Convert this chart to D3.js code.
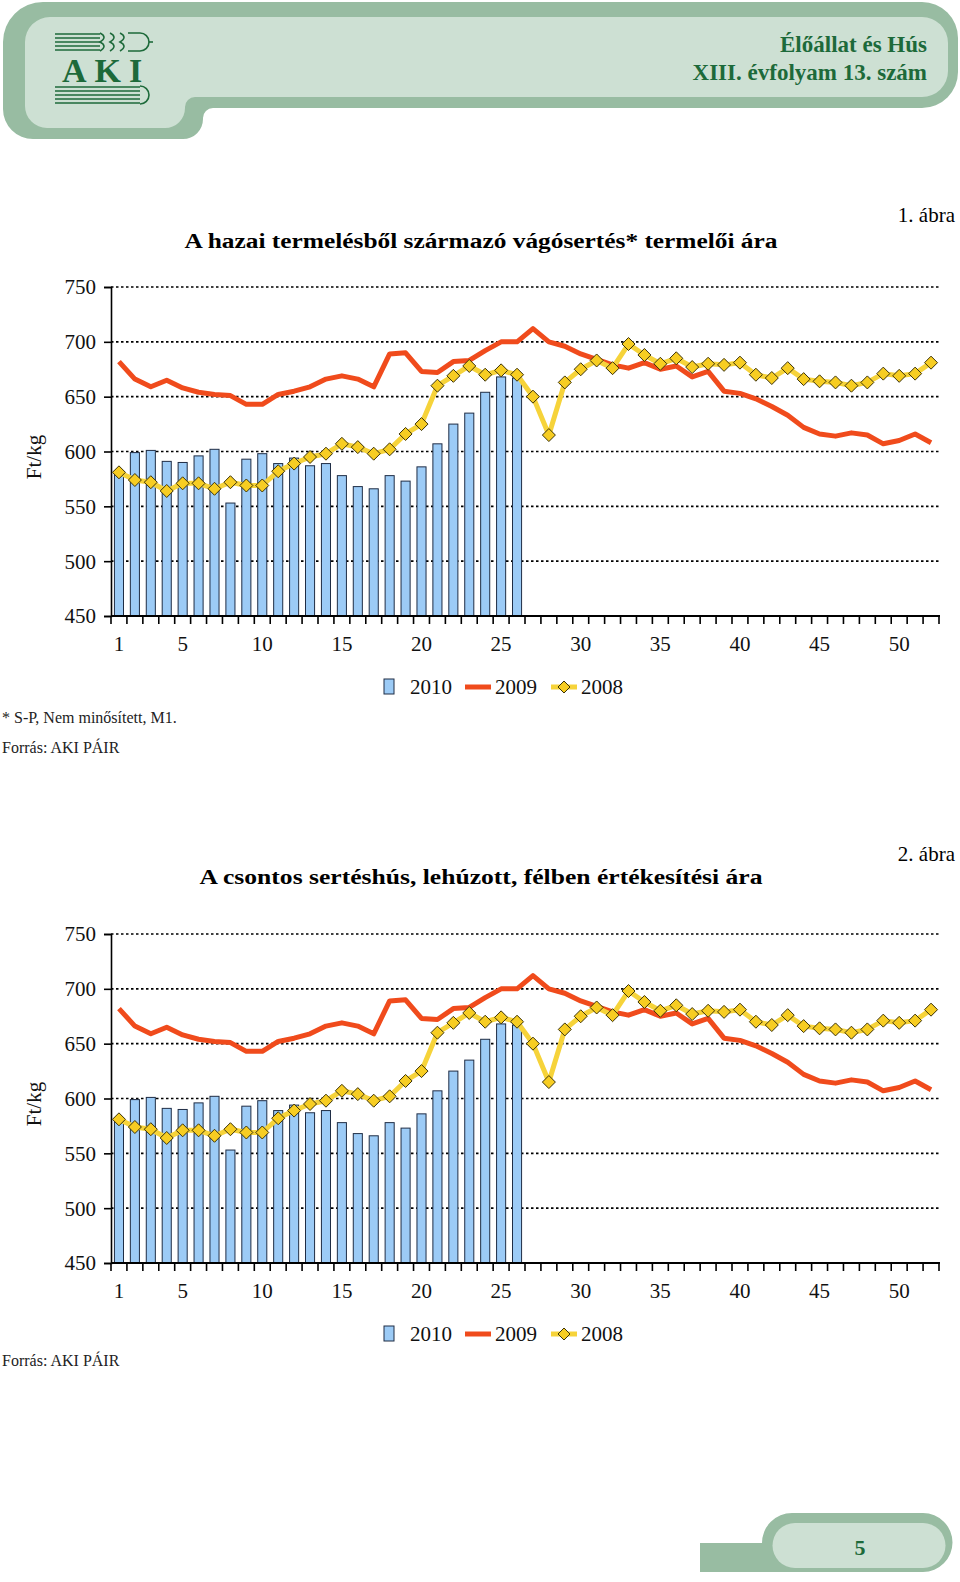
<!DOCTYPE html>
<html><head><meta charset="utf-8">
<script src="https://cdn.jsdelivr.net/npm/d3@7"></script>
<style>
html,body{margin:0;padding:0;background:#fff;}
svg{display:block;font-family:"Liberation Serif","DejaVu Serif",serif;}
</style></head>
<body>
<svg id="page" width="960" height="1582"></svg>
<script>
// ---------- DATA ----------
const weeks = d3.range(1, 53);
const tickWeeks = [1, 5, 10, 15, 20, 25, 30, 35, 40, 45, 50];
const yTicks = [450, 500, 550, 600, 650, 700, 750];
const seriesNames = ["2010", "2009", "2008"];
const v2010 = [582,599,601,591,590,596,602,553,593,598,589,594,587,589,578,568,566,578,573,586,607,625,635,654,668,667];
const v2009 = [682,666,659,665,658,654,652,651,643,643,652,655,659,666,669,666,659,689,690,673,672,682,683,692,700,700,712,700,696,689,684,679,676,681,675,678,668,673,655,653,648,641,633,622,616,614,617,615,607,610,616,608];
const v2008 = [581,574,572,564,571,571,566,572,569,569,582,589,595,598,607,604,598,602,616,625,660,669,678,670,674,670,650,615,663,675,683,676,698,688,680,685,677,680,679,681,670,667,676,666,664,663,660,663,671,669,671,681];
const title1 = "A hazai termelésből származó vágósertés* termelői ára";
const title2 = "A csontos sertéshús, lehúzott, félben értékesítési ára";
const yLabel = "Ft/kg";

const svg = d3.select("#page");
const OUT = "#98bca2", IN = "#cde0d3", GREEN = "#1d6a3a";

// ---------- HEADER ----------
svg.append("path").attr("fill", OUT).attr("d",
  "M43,2 H922 A36,36 0 0 1 958,38 V72 A36,36 0 0 1 922,108 H213 A10,10 0 0 0 203,118 V119 A20,20 0 0 1 183,139 H33 A30,30 0 0 1 3,109 V42 A40,40 0 0 1 43,2 Z");
svg.append("path").attr("fill", IN).attr("d",
  "M50,17 H922 A26,26 0 0 1 948,43 V71 A26,26 0 0 1 922,97 H195 A10,10 0 0 0 185,107 V108 A20,20 0 0 1 165,128 H47 A22,22 0 0 1 25,106 V42 A25,25 0 0 1 50,17 Z");
// logo
const logo = svg.append("g").attr("stroke", GREEN).attr("fill", "none");
[34, 38, 42, 46, 50].forEach(y => logo.append("line").attr("x1", 55).attr("x2", 100).attr("y1", y).attr("y2", y).attr("stroke-width", 1.6));
[100, 110, 120].forEach(x => logo.append("path").attr("d", `M${x},33 q8,4 0,9 q8,4 0,9`).attr("stroke-width", 1.6));
logo.append("path").attr("d", "M128,33 h12 a9,9 0 0 1 0,18 h-12").attr("stroke-width", 1.6);
logo.append("line").attr("x1", 149).attr("x2", 153).attr("y1", 42).attr("y2", 42).attr("stroke-width", 1.6);
[87, 91, 95, 99, 103].forEach(y => logo.append("line").attr("x1", 55).attr("x2", 140).attr("y1", y).attr("y2", y).attr("stroke-width", 1.6));
logo.append("path").attr("d", "M140,86 a9,9 0 0 1 0,18").attr("stroke-width", 1.6);
svg.append("text").attr("x", 106).attr("y", 82).attr("text-anchor", "middle")
  .attr("font-size", 34).attr("font-weight", "bold").attr("fill", GREEN)
  .attr("letter-spacing", 8).text("AKI");
svg.append("text").attr("x", 927).attr("y", 52).attr("text-anchor", "end")
  .attr("font-size", 23).attr("font-weight", "bold").attr("fill", GREEN).text("Élőállat és Hús");
svg.append("text").attr("x", 927).attr("y", 80).attr("text-anchor", "end")
  .attr("font-size", 23).attr("font-weight", "bold").attr("fill", GREEN).text("XIII. évfolyam 13. szám");

// ---------- FOOTER ----------
svg.append("path").attr("fill", OUT).attr("d",
  "M700,1543 H762 A30,30 0 0 1 792,1513 H923 A29.5,29.5 0 0 1 923,1572 H700 Z");
svg.append("path").attr("fill", IN).attr("d",
  "M795,1523 H923 A22.5,22.5 0 0 1 923,1568 H795 A22.5,22.5 0 0 1 795,1523 Z");
svg.append("text").attr("x", 860).attr("y", 1555).attr("text-anchor", "middle")
  .attr("font-size", 22).attr("font-weight", "bold").attr("fill", GREEN).text("5");

// ---------- CHARTS ----------
const x = d3.scaleBand().domain(weeks).range([111, 939]).padding(0);
const y = d3.scaleLinear().domain([450, 750]).range([616, 287]);
const barW = x.bandwidth() * 0.57;
const cx = d => x(d) + x.bandwidth() / 2;

function drawChart(dy, title, titleY, titleW, abraText, abraY) {
  const g = svg.append("g").attr("transform", `translate(0,${dy})`);
  g.append("text").attr("x", 481).attr("y", titleY).attr("text-anchor", "middle")
    .attr("font-size", 20).attr("font-weight", "bold")
    .attr("textLength", titleW).attr("lengthAdjust", "spacingAndGlyphs").text(title);
  g.append("text").attr("x", 955).attr("y", abraY).attr("text-anchor", "end")
    .attr("font-size", 21).text(abraText);

  // grid
  g.append("g").selectAll("line").data(yTicks.filter(t => t > 450)).join("line")
    .attr("x1", 111).attr("x2", 939).attr("y1", d => y(d)).attr("y2", d => y(d))
    .attr("stroke", "#000").attr("stroke-width", 1.6).attr("stroke-dasharray", "2.5,2.5");

  // bars 2010
  g.append("g").selectAll("rect").data(v2010).join("rect")
    .attr("x", (d, i) => cx(weeks[i]) - barW / 2).attr("width", barW)
    .attr("y", d => y(d)).attr("height", d => y(450) - y(d))
    .attr("fill", "#9ccbf6").attr("stroke", "#1f2d45").attr("stroke-width", 1);

  // y axis
  const ya = d3.axisLeft(y).tickValues(yTicks).tickSize(7).tickPadding(8).tickFormat(d3.format("d"));
  const yg = g.append("g").attr("transform", "translate(111,0)").call(ya);
  yg.select(".domain").attr("stroke-width", 1.6);
  yg.selectAll(".tick line").attr("stroke-width", 1.6);
  yg.selectAll("text").attr("font-size", 21).attr("font-family", "Liberation Serif").attr("fill", "#111").attr("dy", "0.33em");

  // x axis: ticks at band boundaries
  const bounds = d3.range(0, 53).map(i => 111 + i * x.bandwidth());
  g.append("g").selectAll("line").data(bounds).join("line")
    .attr("x1", d => d).attr("x2", d => d).attr("y1", 616).attr("y2", 624)
    .attr("stroke", "#000").attr("stroke-width", 1.6);
  g.append("line").attr("x1", 111).attr("x2", 940).attr("y1", 616).attr("y2", 616)
    .attr("stroke", "#000").attr("stroke-width", 2);
  g.append("g").selectAll("text").data(tickWeeks).join("text")
    .attr("x", d => cx(d)).attr("y", 651).attr("text-anchor", "middle")
    .attr("font-size", 21).attr("fill", "#111").text(d => d);

  // 2009 line
  const line = d3.line().x((d, i) => cx(weeks[i])).y(d => y(d));
  g.append("path").datum(v2009).attr("d", line).attr("fill", "none")
    .attr("stroke", "#f04b1c").attr("stroke-width", 5).attr("stroke-linejoin", "round");
  // 2008 line + diamonds
  g.append("path").datum(v2008).attr("d", line).attr("fill", "none")
    .attr("stroke", "#f6d33a").attr("stroke-width", 5).attr("stroke-linejoin", "round");
  g.append("g").selectAll("path").data(v2008).join("path")
    .attr("transform", (d, i) => `translate(${cx(weeks[i])},${y(d)})`)
    .attr("d", "M0,-6.5 L6.5,0 L0,6.5 L-6.5,0 Z")
    .attr("fill", "#f7cd22").attr("stroke", "#3b3208").attr("stroke-width", 1);

  // y label
  g.append("text").attr("transform", "translate(41,457) rotate(-90)").attr("text-anchor", "middle")
    .attr("font-size", 21).attr("fill", "#111").text(yLabel);

  // legend
  const lg = g.append("g");
  lg.append("rect").attr("x", 384).attr("y", 679).attr("width", 10).attr("height", 15)
    .attr("fill", "#9ccbf6").attr("stroke", "#1f2d45").attr("stroke-width", 1);
  lg.append("text").attr("x", 410).attr("y", 694).attr("font-size", 21).attr("fill", "#111").text(seriesNames[0]);
  lg.append("line").attr("x1", 465).attr("x2", 491).attr("y1", 687).attr("y2", 687)
    .attr("stroke", "#f04b1c").attr("stroke-width", 5);
  lg.append("text").attr("x", 495).attr("y", 694).attr("font-size", 21).attr("fill", "#111").text(seriesNames[1]);
  lg.append("line").attr("x1", 551).attr("x2", 577).attr("y1", 687).attr("y2", 687)
    .attr("stroke", "#f6d33a").attr("stroke-width", 5);
  lg.append("path").attr("transform", "translate(564,687)").attr("d", "M0,-6 L6,0 L0,6 L-6,0 Z")
    .attr("fill", "#f7cd22").attr("stroke", "#3b3208").attr("stroke-width", 1);
  lg.append("text").attr("x", 581).attr("y", 694).attr("font-size", 21).attr("fill", "#111").text(seriesNames[2]);
  return g;
}

drawChart(0, title1, 248, 593, "1. ábra", 222);
drawChart(647, title2, 237, 563, "2. ábra", 214);

// notes
svg.append("text").attr("x", 2).attr("y", 723).attr("font-size", 16).attr("fill", "#222").text("* S-P, Nem minősített, M1.");
svg.append("text").attr("x", 2).attr("y", 753).attr("font-size", 16).attr("fill", "#222").text("Forrás: AKI PÁIR");
svg.append("text").attr("x", 2).attr("y", 1366).attr("font-size", 16).attr("fill", "#222").text("Forrás: AKI PÁIR");
</script>
</body></html>
